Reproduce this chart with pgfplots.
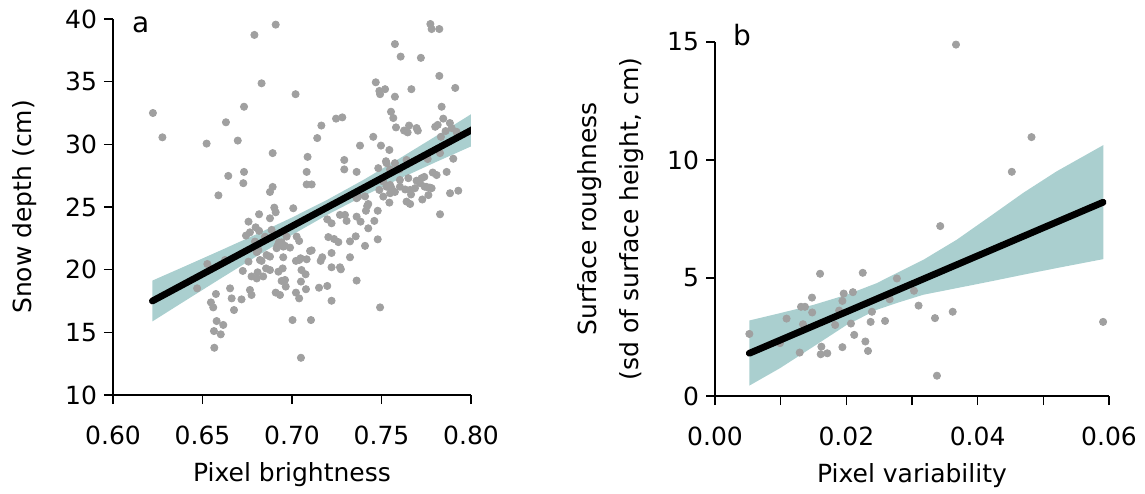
\documentclass[border=0pt]{standalone}
\usepackage{pgfplots}
\pgfplotsset{compat=1.18}
\usepackage{fontspec}
\setmainfont{DejaVu Sans}

\definecolor{band}{RGB}{170,207,207}
\definecolor{pts}{RGB}{160,160,160}

\newcommand{\fs}{\fontsize{12.5}{15}\selectfont}

\pgfplotsset{
  panel/.style={
    scale only axis,
    clip mode=individual,
    axis x line*=bottom,
    axis y line*=left,
    tick align=outside,
    major tick length=4.5pt,
    axis line style={line width=0.7pt},
    tick style={line width=0.7pt, black},
    /pgf/number format/assume math mode=true,
    tick label style={font=\fs},
    xticklabel style={yshift=-7.5pt},
    label style={font=\fs},
    xlabel style={at={(axis description cs:0.5,0)}, anchor=center, yshift=-40pt},
  },
  dots/.style={only marks, mark=*, mark size=1.8pt, color=pts},
  fit/.style={black, line width=3.4pt, line cap=round},
}

\begin{document}
\begin{tikzpicture}
\useasboundingbox (-56.5pt,-49pt) rectangle (516pt,197.5pt);

% panel a
\begin{axis}[panel,
  at={(0,0)}, anchor=south west,
  width=179pt, height=188pt,
  xmin=0.6, xmax=0.8, ymin=10, ymax=40,
  xtick={0.6,0.65,0.7,0.75,0.8},
  ytick={10,15,20,25,30,35,40},
  xticklabel style={/pgf/number format/.cd, fixed, fixed zerofill, precision=2},
  xlabel={Pixel brightness},
  ylabel={Snow depth (cm)},
  ylabel style={at={(axis description cs:0,0.5)}, anchor=center, yshift=44pt},
]
\addplot[fill=band, draw=none] coordinates {
  (0.622,19.13) (0.64,20.26) (0.66,21.53) (0.68,22.82) (0.70,24.16)
  (0.72,25.60) (0.74,27.17) (0.76,28.87) (0.78,30.62) (0.802,32.58)
  (0.802,29.96) (0.78,28.56) (0.76,27.25) (0.74,25.88) (0.72,24.40)
  (0.70,22.77) (0.68,21.05) (0.66,19.28) (0.64,17.49) (0.622,15.87)
};
\addplot[dots] coordinates {
  (0.6223,32.5) (0.6276,30.56) (0.6523,30.06) (0.6631,31.76) (0.6644,27.48)
  (0.6589,25.93) (0.679,38.73) (0.6909,39.55) (0.683,34.87) (0.6732,33.0)
  (0.702,34.0) (0.6697,30.3) (0.6892,29.3) (0.6732,27.8) (0.6728,26.9)
  (0.7087,29.0) (0.7141,30.5) (0.7164,31.5) (0.7246,32.05) (0.7281,32.15)
  (0.7082,27.8) (0.7082,26.8) (0.711,26.8) (0.6892,26.6) (0.6877,26.2)
  (0.7292,28.75) (0.7292,28.0) (0.7361,27.8) (0.738,29.9) (0.7454,30.6)
  (0.7497,29.9) (0.7544,29.55) (0.7468,34.95) (0.7488,34.26) (0.752,34.4)
  (0.7492,34.0) (0.7575,33.8) (0.7667,34.4) (0.7575,38.0) (0.7607,37.0)
  (0.772,36.9) (0.7773,39.6) (0.778,39.2) (0.7823,39.2) (0.7823,35.46)
  (0.7912,34.5) (0.7836,33.0) (0.7553,32.6) (0.7566,32.1) (0.7581,31.35)
  (0.7626,31.1) (0.7654,31.5) (0.7646,30.95) (0.7696,31.3) (0.7703,31.09)
  (0.7800,31.4) (0.7814,31.55) (0.7845,32.05) (0.7882,31.7) (0.7892,31.3)
  (0.7858,31.06) (0.7832,30.6) (0.7919,31.0) (0.7827,29.3) (0.7901,28.85)
  (0.7864,27.8) (0.7883,26.1) (0.7929,26.3) (0.7786,27.75) (0.7808,27.55)
  (0.7739,27.4) (0.7752,26.6) (0.777,26.55) (0.766,26.36) (0.7528,28.5)
  (0.7575,28.5) (0.760,28.0) (0.764,28.75) (0.7482,28.1) (0.7548,28.0)
  (0.7525,28.65) (0.7758,28.83) (0.7724,27.3) (0.7696,27.1) (0.7548,26.76)
  (0.751,27.03) (0.7603,27.16) (0.7650,27.3) (0.7632,26.4) (0.7408,25.85)
  (0.7361,25.7) (0.7548,26.1) (0.7665,26.0) (0.7741,26.62) (0.778,26.5)
  (0.7687,26.5) (0.7715,26.9) (0.7556,26.5) (0.7575,26.2) (0.7528,26.62)
  (0.737,25.83) (0.7488,26.36) (0.751,25.83) (0.7544,25.35) (0.7603,26.62)
  (0.764,25.43) (0.766,25.24) (0.7728,25.6) (0.7762,25.95) (0.7827,24.42)
  (0.742,25.08) (0.7426,25.24) (0.7413,24.7) (0.7479,24.7)
  (0.6757,23.83) (0.6816,24.42) (0.6901,24.95) (0.6909,24.58) (0.6877,24.1)
  (0.7007,24.9) (0.6743,22.72) (0.6765,22.98) (0.6797,23.38) (0.6816,23.1)
  (0.6886,23.17) (0.6793,22.24) (0.6812,21.57) (0.6858,21.17) (0.6877,21.04)
  (0.6914,21.71) (0.6933,21.97) (0.6951,21.84) (0.6989,21.76) (0.697,22.64)
  (0.7026,22.64) (0.704,22.29) (0.6951,20.99) (0.683,20.7) (0.6821,20.77)
  (0.6757,20.64) (0.6725,19.9) (0.6808,19.79) (0.6855,20.1) (0.6877,19.97)
  (0.6924,19.84) (0.6948,20.1) (0.6774,19.46) (0.6803,19.3) (0.6839,19.46)
  (0.6942,19.1) (0.6961,19.18) (0.6965,18.65) (0.6909,18.17) (0.6933,17.98)
  (0.6765,18.38) (0.6774,17.98) (0.6718,17.63) (0.6663,17.71) (0.6654,18.51)
  (0.6676,16.78) (0.6575,18.06) (0.6547,17.39) (0.656,16.99) (0.6527,20.45)
  (0.647,18.51) (0.6579,15.9) (0.6616,15.59) (0.6564,15.1) (0.6602,14.84)
  (0.6566,13.77) (0.7003,15.98) (0.7106,15.98) (0.705,12.97) (0.7022,20.7)
  (0.704,20.77) (0.7048,20.91) (0.7082,20.83) (0.7053,19.97) (0.7076,19.63)
  (0.705,19.05) (0.7078,18.44) (0.7022,18.17) (0.704,17.71) (0.711,21.54)
  (0.716,20.7) (0.7169,20.99) (0.7221,20.19) (0.7268,20.19) (0.7273,20.03)
  (0.7151,18.56) (0.7197,18.7) (0.7221,17.52) (0.7221,21.33) (0.7203,22.6)
  (0.7235,22.45) (0.7259,22.2) (0.7324,22.26) (0.7356,22.66) (0.7324,20.99)
  (0.7408,21.9) (0.7361,19.13) (0.7492,16.99) (0.7197,24.02) (0.7221,23.7)
  (0.7268,24.37) (0.7296,24.37) (0.7305,23.89) (0.7361,24.23) (0.7383,23.83)
  (0.7426,23.3) (0.746,23.89) (0.7479,22.42) (0.6626,20.77) (0.6849,22.63)
  (0.6886,22.58) (0.6927,22.18) (0.6942,22.18) (0.6919,21.9) (0.6961,21.9)
  (0.7101,21.49) (0.6803,21.4)
};
\addplot[fit] coordinates {(0.622,17.5) (0.802,31.27)};
\node[anchor=base west, font=\fontsize{14}{16}\selectfont]
  at (rel axis cs:0,1) [xshift=6pt, yshift=-6.5pt] {a};
\end{axis}

% panel b
\begin{axis}[panel,
  at={(301pt,-0.5pt)}, anchor=south west,
  width=197pt, height=177pt,
  xmin=0, xmax=0.06, ymin=0, ymax=15,
  scaled x ticks=false,
  xtick={0,0.01,0.02,0.03,0.04,0.05,0.06},
  xticklabels={0.00,,0.02,,0.04,,0.06},
  ytick={0,5,10,15},
  xlabel={Pixel variability},
  ylabel={Surface roughness\\(sd of surface height, cm)},
  ylabel style={at={(axis description cs:0,0.5)}, anchor=center,
    yshift=52pt, align=center, font=\fontsize{12.5}{21}\selectfont},
]
\addplot[fill=band, draw=none] coordinates {
  (0.00523,3.20) (0.0099,3.51) (0.01497,3.86) (0.02005,4.29) (0.02462,4.78)
  (0.02767,5.21) (0.03172,5.77) (0.0368,6.62) (0.04188,7.61) (0.04695,8.61)
  (0.05203,9.52) (0.05913,10.63)
  (0.05913,5.80) (0.05203,5.42) (0.04695,5.14) (0.04188,4.85) (0.0368,4.57)
  (0.03172,4.29) (0.02767,3.94) (0.02462,3.65) (0.02005,3.01) (0.01497,2.09)
  (0.0099,1.18) (0.00523,0.44)
};
\addplot[dots] coordinates {
  (0.0367,14.89) (0.0482,10.97) (0.0452,9.50) (0.0343,7.20) (0.0591,3.14)
  (0.0338,0.86) (0.00523,2.63) (0.0160,5.18) (0.0225,5.22) (0.0277,4.98)
  (0.0303,4.46) (0.0310,3.83) (0.0362,3.57) (0.0335,3.30) (0.01477,4.17)
  (0.0131,3.78) (0.0137,3.78) (0.0148,3.54) (0.0109,3.28) (0.0134,3.04)
  (0.0196,4.34) (0.0210,4.40) (0.0194,4.03) (0.0189,3.62) (0.0239,3.57)
  (0.0266,4.10) (0.0183,3.01) (0.0207,3.07) (0.0237,3.14) (0.0259,3.18)
  (0.0212,2.59) (0.0229,2.31) (0.0233,1.91) (0.0194,2.07) (0.0162,2.09)
  (0.0129,1.84) (0.0161,1.77) (0.0171,1.81) (0.0099,2.24)
};
\addplot[fit] coordinates {(0.00523,1.81) (0.0591,8.21)};
\node[anchor=base west, font=\fontsize{14}{16}\selectfont]
  at (rel axis cs:0,1) [xshift=5.5pt, yshift=-1.5pt] {b};
\end{axis}
\end{tikzpicture}
\end{document}
